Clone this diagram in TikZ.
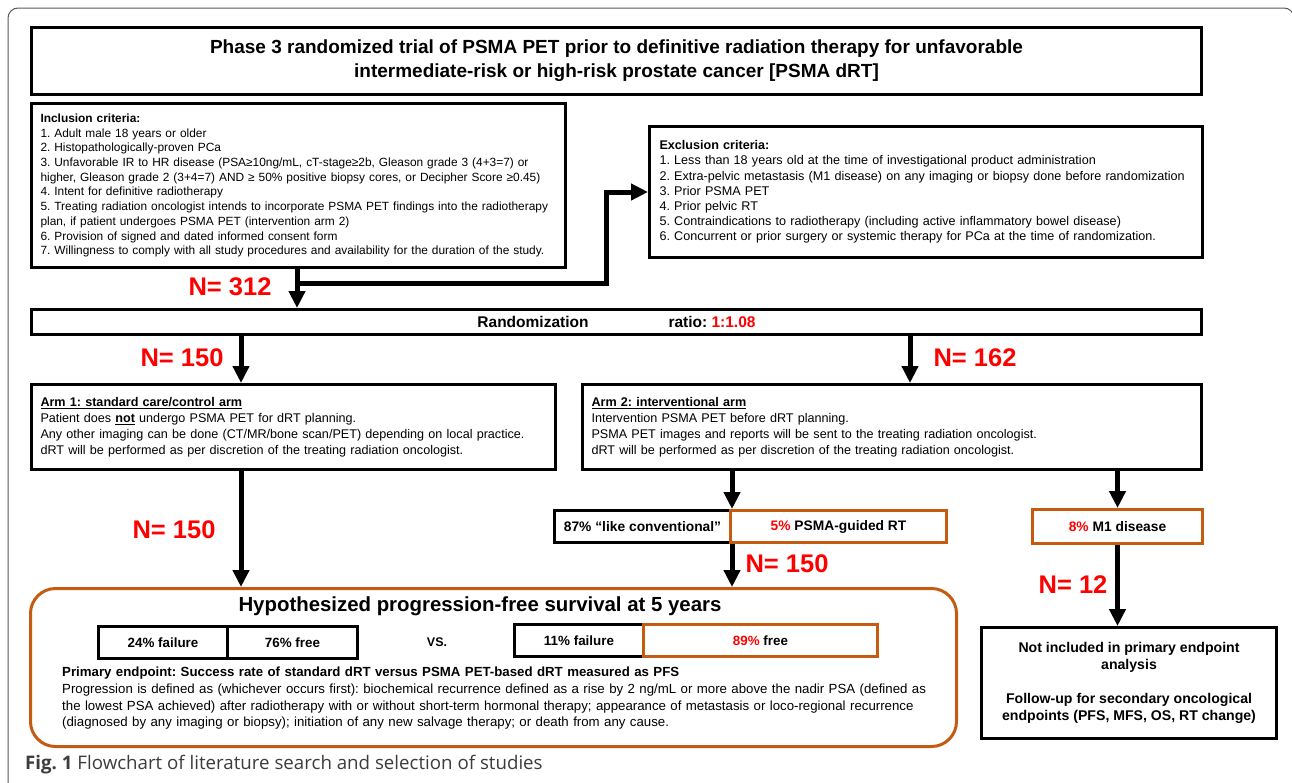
\documentclass[tikz,border=0pt]{standalone}
\usepackage{fontspec}
\setmainfont{Liberation Sans}
\newfontfamily\capfont{Open Sans}
\usetikzlibrary{arrows.meta}
\definecolor{pfsorange}{RGB}{197,90,17}
\definecolor{nred}{RGB}{255,0,0}
\definecolor{capgray}{RGB}{60,60,60}
\frenchspacing

\begin{document}
\begin{tikzpicture}[x=1pt,y=-1pt,
	box/.style={draw=black, line width=3pt, anchor=north west, inner xsep=8pt, inner ysep=3pt},
	obox/.style={box, draw=pfsorange},
	critbox/.style={box, align=left, inner xsep=9pt, font=\fontsize{11.9}{14.7}\selectfont},
	armbox/.style={box, align=left, inner xsep=9pt, font=\fontsize{12.6}{16}\selectfont},
	smallbox/.style={box, align=center, inner xsep=2pt, font=\fontsize{13.8}{15}\selectfont\bfseries},
	pctbox/.style={smallbox, font=\fontsize{13.4}{15}\selectfont\bfseries},
	arr/.style={line width=5pt, -{Triangle[width=16pt,length=17pt]}},
	nlab/.style={text=nred, font=\fontsize{25.5}{26}\selectfont\bfseries}]
	\useasboundingbox (0,0) rectangle (1292,782);
	% outer frame of the figure
	\draw[gray!70!black, line width=1pt, rounded corners=10pt] (8,800) -- (8,8) -- (1294,8) -- (1294,800);

	% title and criteria
	\node[box, minimum width=1170pt, minimum height=67pt, align=center,
	      font=\fontsize{19}{24}\selectfont\bfseries] (title) at (30,26)
		{Phase 3 randomized trial of PSMA PET prior to definitive radiation therapy for unfavorable\\
		 intermediate-risk or high-risk prostate cancer [PSMA dRT]};
	\node[critbox, text width=516pt, minimum height=164pt] (inc) at (30,102)
		{\textbf{Inclusion criteria:}\\
		1. Adult male 18 years or older\\
		2. Histopathologically-proven PCa\\
		3. Unfavorable IR to HR disease (PSA≥10ng/mL, cT-stage≥2b, Gleason grade 3 (4+3=7) or\\
		higher, Gleason grade 2 (3+4=7) AND ≥ 50\% positive biopsy cores, or Decipher Score ≥0.45)\\
		4. Intent for definitive radiotherapy\\
		5. Treating radiation oncologist intends to incorporate PSMA PET findings into the radiotherapy\\
		plan, if patient undergoes PSMA PET (intervention arm 2)\\
		6. Provision of signed and dated informed consent form\\
		7. Willingness to comply with all study procedures and availability for the duration of the study.};
	\node[critbox, inner xsep=10pt, text width=533pt, minimum height=131pt,
	      font=\fontsize{12.6}{15.2}\selectfont] (excl) at (648,125)
		{\textbf{Exclusion criteria:}\\
		1. Less than 18 years old at the time of investigational product administration\\
		2. Extra-pelvic metastasis (M1 disease) on any imaging or biopsy done before randomization\\
		3. Prior PSMA PET\\
		4. Prior pelvic RT\\
		5. Contraindications to radiotherapy (including active inflammatory bowel disease)\\
		6. Concurrent or prior surgery or systemic therapy for PCa at the time of randomization.};

	% randomization
	\node[box, minimum width=1170pt, minimum height=25pt, inner ysep=0pt,
	      font=\fontsize{15.5}{16}\selectfont\bfseries] (rand) at (30,308)
		{Randomization\hspace{80pt}ratio: \textcolor{nred}{1:1.08}};

	% the two arms
	\node[armbox, text width=506pt, minimum height=85pt] (arm1) at (30,383)
		{\underline{\textbf{Arm 1: standard care/control arm}}\\
		Patient does \underline{\textbf{not}} undergo PSMA PET for dRT planning.\\
		Any other imaging can be done (CT/MR/bone scan/PET) depending on local practice.\\
		dRT will be performed as per discretion of the treating radiation oncologist.};
	\node[armbox, text width=601pt, minimum height=85pt] (arm2) at (581,383)
		{\underline{\textbf{Arm 2: interventional arm}}\\
		Intervention PSMA PET before dRT planning.\\
		PSMA PET images and reports will be sent to the treating radiation oncologist.\\
		dRT will be performed as per discretion of the treating radiation oncologist.};

	% outcome of PSMA PET
	\node[smallbox, minimum width=176pt, minimum height=32pt] (conv) at (553,509)
		{87\% “like conventional”};
	\node[smallbox, draw=pfsorange, minimum width=216pt, minimum height=32pt] (guided) at (729,509)
		{\textcolor{nred}{5\%} PSMA-guided RT};
	\node[smallbox, draw=pfsorange, minimum width=170pt, minimum height=34pt] (m1) at (1031,508)
		{\textcolor{nred}{8\%} M1 disease};

	% primary endpoint
	\node[obox, rounded corners=25pt, minimum width=926pt, minimum height=158pt] (pfs) at (29,587) {};
	\node[font=\fontsize{20.4}{22}\selectfont\bfseries] (pfstitle) at (480,606)
		{Hypothesized progression-free survival at 5 years};
	\node[pctbox, minimum width=129pt, minimum height=32pt] (fail1) at (97,625) {24\% failure};
	\node[pctbox, minimum width=130pt, minimum height=32pt] (free1) at (226,625) {76\% free};
	\node[font=\fontsize{12.5}{14}\selectfont\bfseries] (vs) at (437,642) {VS.};
	\node[pctbox, minimum width=129pt, minimum height=32pt] (fail2) at (513,623) {11\% failure};
	\node[pctbox, draw=pfsorange, minimum width=234pt, minimum height=32pt] (free2) at (642,623)
		{\textcolor{nred}{89\%} free};
	\node[anchor=north west, align=left, text width=890pt, inner sep=0pt,
	      font=\fontsize{13.25}{16.7}\selectfont] (endpoint) at (62,667)
		{\textbf{Primary endpoint: Success rate of standard dRT versus PSMA PET-based dRT measured as PFS}\\
		Progression is defined as (whichever occurs first): biochemical recurrence defined as a rise by 2 ng/mL or more above the nadir PSA (defined as\\
		the lowest PSA achieved) after radiotherapy with or without short-term hormonal therapy; appearance of metastasis or loco-regional recurrence\\
		(diagnosed by any imaging or biopsy); initiation of any new salvage therapy; or death from any cause.};

	\node[box, minimum width=295pt, minimum height=111pt, align=center,
	      font=\fontsize{14.1}{17}\selectfont\bfseries] (notinc) at (980,626)
		{Not included in primary endpoint\\ analysis\\[17pt]
		 Follow-up for secondary oncological\\ endpoints (PFS, MFS, OS, RT change)};

	% connectors
	\coordinate (split) at (297,283);
	\coordinate (bend) at (606,283);
	\coordinate (colA) at (241,0);
	\coordinate (colB) at (910,0);
	\draw[arr] (inc.south -| split) -- (rand.north -| split);
	\draw[arr] (split) -- (bend) |- (excl.west);
	\draw[arr] (rand.south -| colA) -- (arm1.north -| colA);
	\draw[arr] (rand.south -| colB) -- (arm2.north -| colB);
	\draw[arr] (arm2.south -| conv.north east) -- (conv.north east);
	\draw[arr] (arm2.south -| m1.north) -- (m1.north);
	\draw[arr] (arm1.south -| colA) -- (pfs.north -| colA);
	\draw[arr] (conv.south east) -- (pfs.north -| conv.south east);
	\draw[arr] (m1.south) -- (notinc.north -| m1.south);

	% numbers
	\node[nlab] (n312) at (230,287) {N= 312};
	\node[nlab] (n150a) at (182,358) {N= 150};
	\node[nlab] (n162) at (975,358) {N= 162};
	\node[nlab] (n150b) at (174,530) {N= 150};
	\node[nlab] (n150c) at (787,564) {N= 150};
	\node[nlab] (n12) at (1073,585) {N= 12};

	% caption
	\node[anchor=west, inner sep=0pt, text=capgray, font=\capfont\fontsize{18.7}{21}\selectfont] (caption) at (25,765)
		{\textbf{Fig. 1} Flowchart of literature search and selection of studies};
\end{tikzpicture}
\end{document}
